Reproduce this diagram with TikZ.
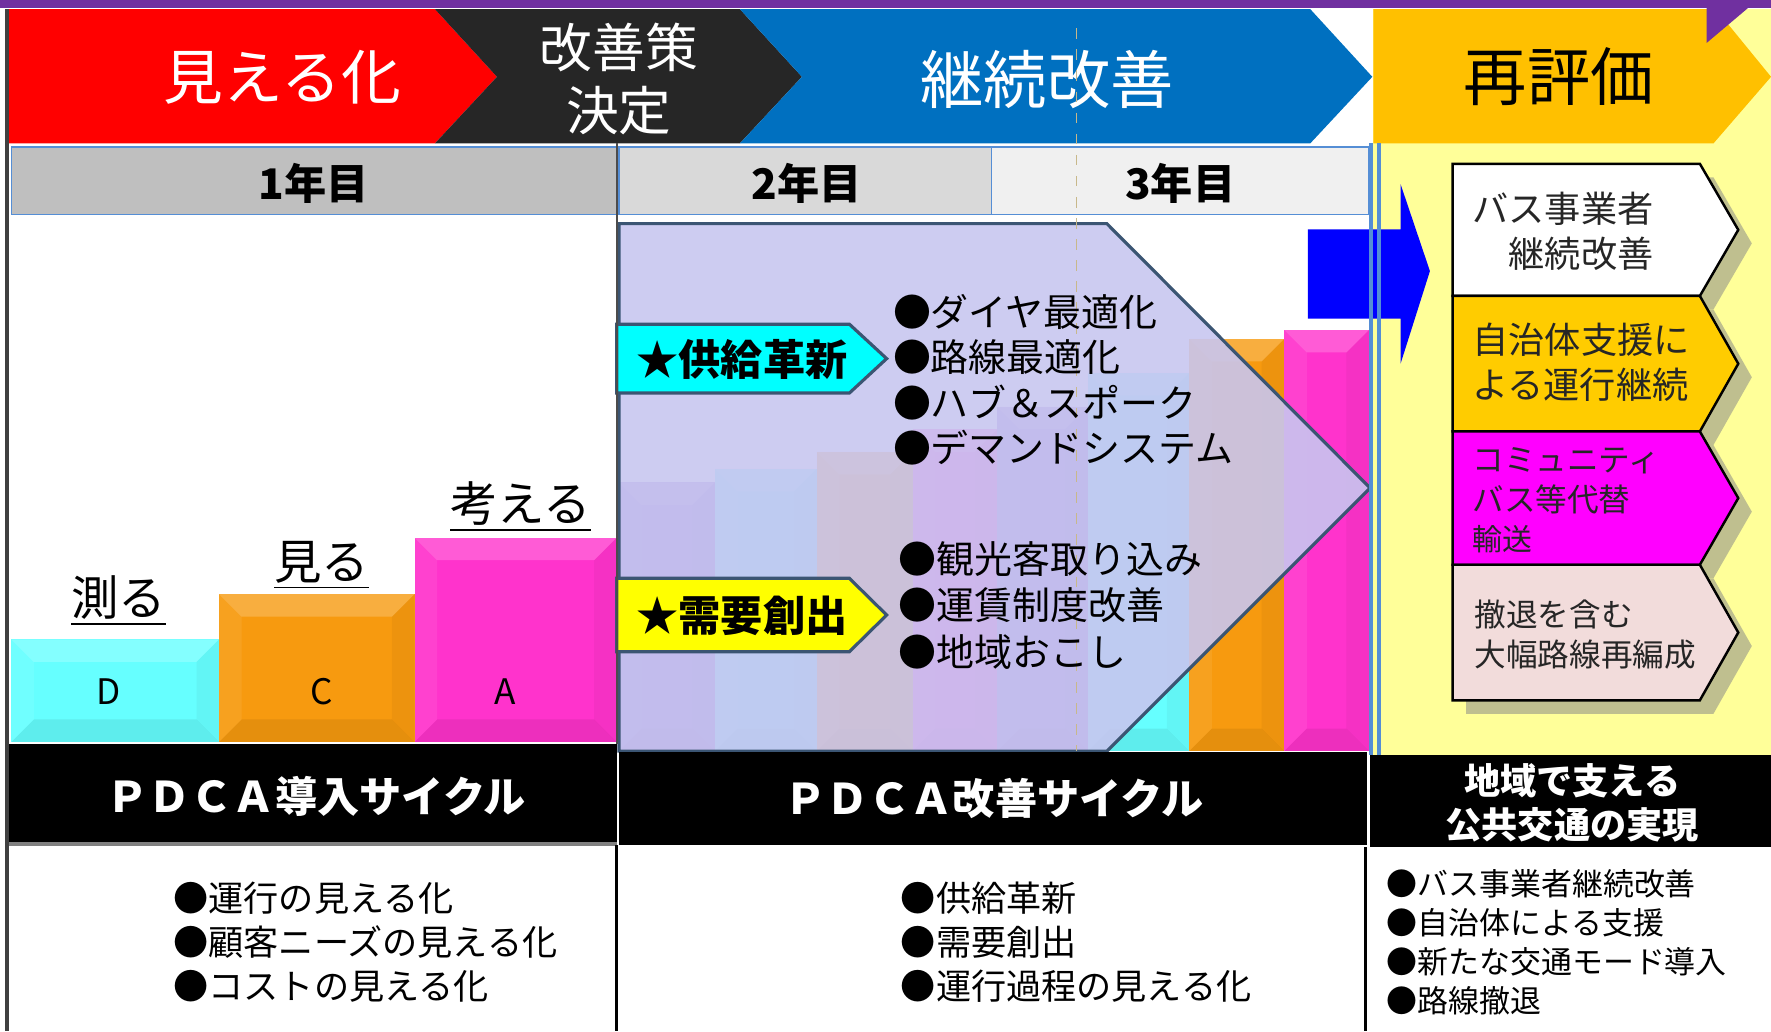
\documentclass[tikz,border=0pt]{standalone}
\usepackage{fontspec}
\setmainfont{Noto Sans CJK JP}
\usepackage{tikz}
\usetikzlibrary{calc}

\definecolor{topred}{HTML}{FF0000}
\definecolor{topblack}{HTML}{262626}
\definecolor{topblue}{HTML}{0070C0}
\definecolor{topgold}{HTML}{FFC000}
\definecolor{stripviolet}{HTML}{7030A0}
\definecolor{gridblue}{HTML}{558ED5}
\definecolor{paleyellow}{HTML}{FFFF99}
\definecolor{barcyan}{HTML}{66FFFF}
\definecolor{barorange}{HTML}{F79A0F}
\definecolor{barmagenta}{HTML}{FF33CC}
\definecolor{barviolet}{HTML}{8C64D2}
\definecolor{lavender}{HTML}{C8C6F0}
\definecolor{slateline}{HTML}{3B5573}
\definecolor{labelcyan}{HTML}{00FFFF}
\definecolor{labelyellow}{HTML}{FFFF00}
\definecolor{arrowblue}{HTML}{0000FF}
\definecolor{boxshadow}{HTML}{BFBF8F}
\definecolor{boxgold}{HTML}{FFCC00}
\definecolor{boxmagenta}{HTML}{FF00FF}
\definecolor{boxpink}{HTML}{F2DCDB}
\definecolor{dashtan}{HTML}{C8B88A}

\newcommand{\bandarrow}[3] % left x, right x, colour
{
	% chevron of the top band, notch on the left
	\fill[#3] (#1,8) -- (#2,8) -- (#2+55,68) -- (#2,127) -- (#1,127) -- (#1+55,68) -- cycle;
}
\newcommand{\bevelbar}[5] % left x, right x, top y, bottom y, colour
{
	\fill[#5] (#1,#3) rectangle (#2,#4);
	% bevel: light top and left, dark right and bottom
	\fill[white, opacity=0.2] (#1,#3) -- (#2,#3) -- (#2-20,#3+20) -- (#1+20,#3+20) -- cycle;
	\fill[white, opacity=0.07] (#1,#3) -- (#1+20,#3+20) -- (#1+20,#4-20) -- (#1,#4) -- cycle;
	\fill[black, opacity=0.04] (#2,#3) -- (#2-20,#3+20) -- (#2-20,#4-20) -- (#2,#4) -- cycle;
	\fill[black, opacity=0.07] (#1,#4) -- (#1+20,#4-20) -- (#2-20,#4-20) -- (#2,#4) -- cycle;
}
\newcommand{\sidebox}[3] % top y, bottom y, colour
{
	% drop shadow
	\fill[boxshadow] (1298,#1+12) -- (1517,#1+12) -- (1551,{(#1+#2)/2+12}) -- (1517,#2+12) -- (1298,#2+12) -- cycle;
	% box
	\draw[line width=0.7pt, fill=#3] (1286,#1) -- (1505,#1) -- (1539,{(#1+#2)/2}) -- (1505,#2) -- (1286,#2) -- cycle;
}
\newcommand{\starlabel}[3] % top y, bottom y, colour
{
	\draw[slateline, line width=0.9pt, fill=#3] (546,#1) -- (752,#1) -- (785,{(#1+#2)/2}) -- (752,#2) -- (546,#2) -- cycle;
}

\begin{document}
\begin{tikzpicture}[x=0.11295mm, y=-0.11295mm,
	bandtext/.style={text=white, font=\fontsize{17}{20}\selectfont},
	yeartext/.style={font=\bfseries\fontsize{12}{14}\selectfont},
	pdcaletter/.style={font=\fontsize{10}{12}\selectfont},
	steptext/.style={anchor=south, inner sep=1pt, font=\fontsize{13.5}{16}\selectfont},
	itemtext/.style={anchor=west, inner sep=0pt, font=\fontsize{10.8}{13}\selectfont},
	labeltext/.style={font=\bfseries\fontsize{12}{14}\selectfont},
	boxtext/.style={anchor=west, align=left, inner sep=0pt, text=black!85, font=\fontsize{10.3}{12.8}\selectfont},
	cycletext/.style={text=white, font=\bfseries\fontsize{12}{14}\selectfont},
	listtext/.style={anchor=west, inner sep=0pt, font=\fontsize{10}{12.5}\selectfont}]
	\useasboundingbox (0,0) rectangle (1568,913);
	% pale yellow column on the right
	\fill[paleyellow] (1216,8) rectangle (1568,668);
	% top band
	\fill[topred] (8,8) -- (385,8) -- (440,68) -- (385,127) -- (8,127) -- cycle;
	\bandarrow{385}{655}{topblack}
	\bandarrow{655}{1160}{topblue}
	\fill[topgold] (1216,8) -- (1519,8) -- (1568,68) -- (1517,127) -- (1216,127) -- cycle;
	% violet strip and its head
	\fill[stripviolet] (0,0) rectangle (1568,7);
	\fill[stripviolet] (1511,0) -- (1556,0) -- (1511,38) -- cycle;
	\node[bandtext] (visible) at (250,68) {見える化};
	\node[bandtext, align=center, font=\fontsize{15}{17.7}\selectfont] (decide) at (548,70) {改善策\\決定};
	\node[bandtext, font=\fontsize{18}{20}\selectfont] (improve) at (927,70) {継続改善};
	\node[bandtext, text=black, font=\fontsize{18}{20}\selectfont] (review) at (1380,68) {再評価};

	% year row
	\draw[gridblue, fill=gray!50] (10,130) rectangle (546,190);
	\draw[gridblue, fill=gray!30] (548,130) rectangle (878,190);
	\draw[gridblue, fill=gray!12] (878,130) rectangle (1212,190);
	\node[yeartext] (year1) at (278,162) {1年目};
	\node[yeartext] (year2) at (714,162) {2年目};
	\node[yeartext] (year3) at (1045,162) {3年目};

	% PDCA steps of year 1
	\bevelbar{10}{194}{566}{657}{barcyan}
	\bevelbar{194}{367}{526}{657}{barorange}
	\bevelbar{367}{546}{476}{657}{barmagenta}
	\node[pdcaletter] (stepD) at (96,612) {D};
	\node[pdcaletter] (stepC) at (285,612) {C};
	\node[pdcaletter] (stepA) at (447,612) {A};
	\node[steptext] (measure) at (105,558) {\underline{測る}};
	\node[steptext] (look) at (285,526) {\underline{見る}};
	\node[steptext] (think) at (461,475) {\underline{考える}};

	% PDCA steps of years 2 and 3, seen through the arrow
	\foreach \lx/\rx/\ty/\col in {548/633/427/barviolet, 633/723/415/barcyan, 723/808/400/barorange, 808/883/380/barmagenta, 883/963/360/barviolet, 963/1053/330/barcyan, 1053/1137/300/barorange, 1137/1212/292/barmagenta}
	{
		\bevelbar{\lx}{\rx}{\ty}{665}{\col}
	}
	\draw[slateline, line width=0.9pt, fill=lavender, fill opacity=0.9] (548,198) -- (980,198) -- (1213,432) -- (980,665) -- (548,665) -- cycle;
	\draw[dashtan, dashed, line width=0.5pt] (953,25) -- (953,665);

	% supply and demand
	\starlabel{287}{348}{labelcyan}
	\starlabel{512}{577}{labelyellow}
	\node[labeltext] (supply) at (657,318) {★供給革新};
	\node[labeltext] (demand) at (657,545) {★需要創出};
	\foreach \txt [count=\i] in {●ダイヤ最適化, ●路線最適化, ●ハブ＆スポーク, ●デマンドシステム}
		\node[itemtext] (supply\i) at (790,236+40*\i) {\txt};
	\foreach \txt [count=\i] in {●観光客取り込み, ●運賃制度改善, ●地域おこし}
		\node[itemtext] (demand\i) at (795,454+41*\i) {\txt};

	% arrow into the review column
	\fill[arrowblue] (1158,203) -- (1240,203) -- (1240,163) -- (1266,240) -- (1240,322) -- (1240,282) -- (1158,282) -- cycle;
	\draw[gridblue, line width=1.2pt] (1214,127) -- (1214,668);
	\draw[gridblue, line width=1.2pt] (1221,127) -- (1221,668);

	% review boxes
	\sidebox{145}{262}{white}
	\sidebox{262}{382}{boxgold}
	\sidebox{382}{500}{boxmagenta}
	\sidebox{500}{620}{boxpink}
	\node[boxtext] (operator) at (1303,205) {バス事業者\\　継続改善};
	\node[boxtext] (support) at (1303,321) {自治体支援に\\よる運行継続};
	\node[boxtext, font=\fontsize{9}{11.2}\selectfont] (community) at (1303,443) {コミュニティ\\バス等代替\\{\fontsize{8.5}{10}\selectfont 輸送}};
	\node[boxtext, font=\fontsize{9}{11.5}\selectfont] (reorganise) at (1305,562) {撤退を含む\\大幅路線再編成};

	% cycle bars
	\fill[black] (8,659) rectangle (546,746);
	\fill[black] (548,666) rectangle (1210,748);
	\fill[black] (1213,668) rectangle (1568,750);
	\draw[gray, line width=1.2pt] (8,747) -- (546,747);
	\node[cycletext] (intro) at (280,705) {ＰＤＣＡ導入サイクル};
	\node[cycletext] (cycle) at (880,707) {ＰＤＣＡ改善サイクル};
	\node[cycletext, align=center, font=\bfseries\fontsize{10.3}{12.6}\selectfont] (region) at (1392,711) {地域で支える\\公共交通の実現};

	% frame lines
	\draw[black!75, line width=1pt] (6,8) -- (6,913);
	\draw[black!70, line width=0.6pt] (546,127) -- (546,659);
	\draw[black, line width=0.9pt] (546,748) -- (546,913);
	\draw[black, line width=0.9pt] (1209,750) -- (1209,913);

	% bottom lists
	\foreach \txt [count=\i] in {●運行の見える化, ●顧客ニーズの見える化, ●コストの見える化}
		\node[listtext] (left\i) at (153,756+39*\i) {\txt};
	\foreach \txt [count=\i] in {●供給革新, ●需要創出, ●運行過程の見える化}
		\node[listtext] (mid\i) at (797,756+39*\i) {\txt};
	\foreach \txt [count=\i] in {●バス事業者継続改善, ●自治体による支援, ●新たな交通モード導入, ●路線撤退}
		\node[listtext, font=\fontsize{8.8}{11}\selectfont] (right\i) at (1227,748+34.5*\i) {\txt};
\end{tikzpicture}
\end{document}
